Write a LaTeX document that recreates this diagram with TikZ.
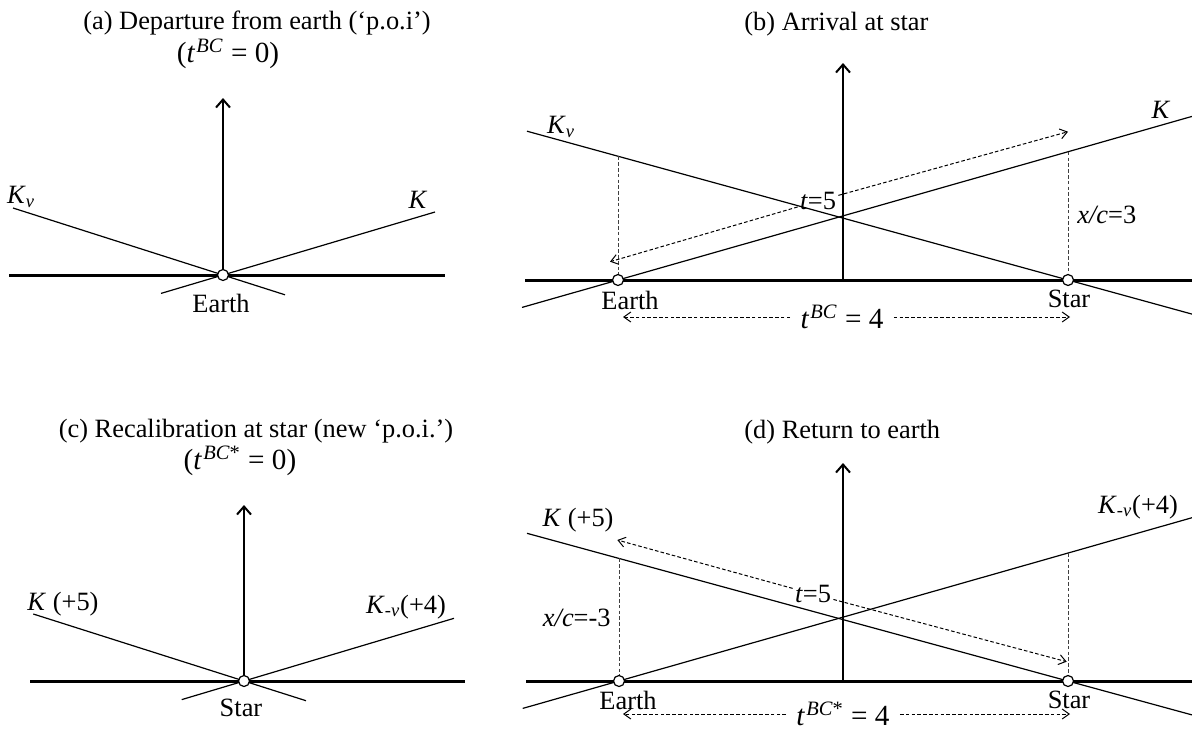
\documentclass[tikz,border=0pt]{standalone}
\usepackage{fontspec}
\setmainfont{Liberation Serif}
\usetikzlibrary{arrows.meta}
\newcommand{\tbcsym}[1]{\textit{t}\textsuperscript{\kern0.6pt\textit{BC}#1}}
\begin{document}
\begin{tikzpicture}[x=0.5pt,y=-0.5pt,
  every node/.style={font=\fontsize{13.2}{15}\selectfont, inner sep=1pt},
  mathlike/.style={font=\fontsize{14.6}{17}\selectfont},
  ground/.style={line width=1.5pt},
  taxis/.style={line width=1pt,-{Straight Barb[length=4pt,width=7pt]}},
  world/.style={line width=0.6pt},
  drop/.style={line width=0.5pt, black!75, dash pattern=on 1.8pt off 1.1pt},
  signal/.style={line width=0.5pt, dash pattern=on 1.8pt off 1.1pt, -{Straight Barb[length=3.5pt,width=5pt]}},
  event/.style={circle, draw, fill=white, line width=0.6pt, minimum size=5.5pt, inner sep=0pt},
  span/.style={mathlike, inner xsep=5pt, inner ysep=0pt}
]
\useasboundingbox (0,0) rectangle (1192,729);

% ---------------- panel (a)
\node (aT1) at (257,23) {(a) Departure from earth (‘p.o.i’)};
\node[mathlike] (aT2) at (228,54) {(\tbcsym{} = 0)};
\coordinate (aO) at (223,275);
\coordinate (aGL) at (9,275);
\coordinate (aGR) at (445,275);
\coordinate (aTop) at (223,98);
\coordinate (aKv1) at (13,208);
\coordinate (aKv2) at (285,294.8);
\coordinate (aK1) at (435,212);
\coordinate (aK2) at (161,293.4);
\draw[world] (aKv1) -- (aKv2);
\draw[world] (aK1) -- (aK2);
\draw[ground] (aGL) -- (aGR);
\draw[taxis] (aO) -- (aTop);
\node[event] (aE) at (aO) {};
\node (aKvL) at (21,197) {\textit{K}\textsubscript{\textit{v}}};
\node (aKL) at (418,200) {\textit{K}};
\node (aEL) at (221,303) {Earth};

% ---------------- panel (b)
\node[anchor=west] (bT) at (742,24) {(b) Arrival at star};
\coordinate (bGL) at (525,280);
\coordinate (bGR) at (1192,280);
\coordinate (bO) at (843,280);
\coordinate (bTop) at (843,63);
\coordinate (bK1) at (522,307.4);
\coordinate (bK2) at (1192,116.4);
\coordinate (bKv1) at (527,131.2);
\coordinate (bKv2) at (1192,314.1);
\coordinate (bEd) at (618,156.3);
\coordinate (bSd) at (1068,151.8);
\coordinate (bS1) at (610,261.7);
\coordinate (bS2) at (1068,131.7);
\coordinate (bA1) at (623,317);
\coordinate (bA2) at (1070,317);
\draw[world] (bK1) -- (bK2);
\draw[world] (bKv1) -- (bKv2);
\draw[ground] (bGL) -- (bGR);
\draw[taxis] (bO) -- (bTop);
\draw[drop] (bEd) -- (618,280);
\draw[drop] (bSd) -- (1068,280);
\node[event] (bE) at (618,280) {};
\node[event] (bS) at (1068,280) {};
\node (bt) at (818,201) {\textit{t}=5};
\draw[signal] (bt) -- (bS1);
\draw[signal] (bt) -- (bS2);
\node (bKvL) at (561,127) {\textit{K}\textsubscript{\textit{v}}};
\node (bKL) at (1161,110) {\textit{K}};
\node[anchor=west] (bxc) at (1075,215) {\textit{x/c}=3};
\node (bEL) at (630,300) {Earth};
\node (bSL) at (1069,299) {Star};
\node[span] (bdist) at (842,317) {\tbcsym{} = 4};
\draw[signal] (bdist) -- (bA1);
\draw[signal] (bdist) -- (bA2);

% ---------------- panel (c)
\node (cT1) at (256,431) {(c) Recalibration at star (new ‘p.o.i.’)};
\node[mathlike] (cT2) at (240,461) {(\tbcsym{*} = 0)};
\coordinate (cO) at (244,681);
\coordinate (cGL) at (30,681);
\coordinate (cGR) at (465,681);
\coordinate (cTop) at (244,505);
\coordinate (cK1) at (33.3,614);
\coordinate (cK2) at (306,700.7);
\coordinate (cKv1) at (454,618.3);
\coordinate (cKv2) at (181.7,699.6);
\draw[world] (cK1) -- (cK2);
\draw[world] (cKv1) -- (cKv2);
\draw[ground] (cGL) -- (cGR);
\draw[taxis] (cO) -- (cTop);
\node[event] (cS) at (cO) {};
\node (cKL) at (63,604) {\textit{K} (+5)};
\node (cKvL) at (406,607) {\textit{K}\textsubscript{-\textit{v}}(+4)};
\node (cSL) at (241,708) {Star};

% ---------------- panel (d)
\node[anchor=west] (dT) at (742,432) {(d) Return to earth};
\coordinate (dGL) at (526,681);
\coordinate (dGR) at (1192,681);
\coordinate (dO) at (843,681);
\coordinate (dTop) at (843,463);
\coordinate (dK1) at (527,533.3);
\coordinate (dK2) at (1192,714.9);
\coordinate (dKv1) at (522.7,708.4);
\coordinate (dKv2) at (1192,517.7);
\coordinate (dEd) at (619,558.4);
\coordinate (dSd) at (1068,553);
\coordinate (dS1) at (617.3,540);
\coordinate (dS2) at (1066.7,661.7);
\coordinate (dA1) at (623,714);
\coordinate (dA2) at (1070,714);
\draw[world] (dK1) -- (dK2);
\draw[world] (dKv1) -- (dKv2);
\draw[ground] (dGL) -- (dGR);
\draw[taxis] (dO) -- (dTop);
\draw[drop] (dEd) -- (619,681);
\draw[drop] (dSd) -- (1068,681);
\node[event] (dE) at (619,681) {};
\node[event] (dS) at (1068,681) {};
\node (dt) at (813,594) {\textit{t}=5};
\draw[signal] (dt) -- (dS1);
\draw[signal] (dt) -- (dS2);
\node (dKL) at (578,520) {\textit{K} (+5)};
\node (dKvL) at (1138,507) {\textit{K}\textsubscript{-\textit{v}}(+4)};
\node[anchor=east] (dxc) at (613,618) {\textit{x/c}=-3};
\node (dEL) at (628,700) {Earth};
\node (dSL) at (1069,700) {Star};
\node[span] (ddist) at (843,714) {\tbcsym{*} = 4};
\draw[signal] (ddist) -- (dA1);
\draw[signal] (ddist) -- (dA2);
\end{tikzpicture}
\end{document}
